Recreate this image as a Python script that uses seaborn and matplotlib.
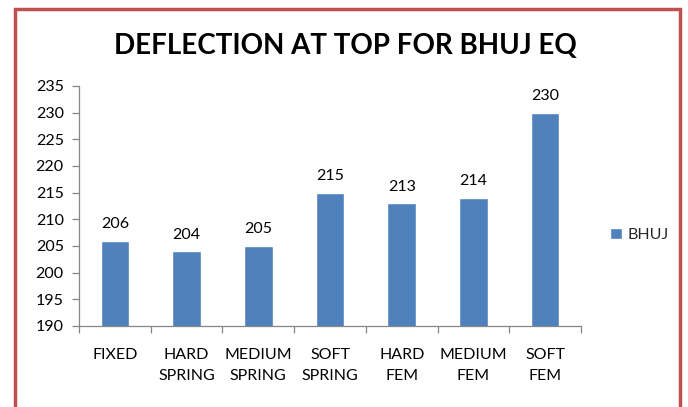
import matplotlib
matplotlib.use("Agg")
import matplotlib.pyplot as plt
import seaborn as sns
import pandas as pd
from matplotlib.patches import Rectangle

categories = ["FIXED", "HARD\nSPRING", "MEDIUM\nSPRING", "SOFT\nSPRING",
              "HARD\nFEM", "MEDIUM\nFEM", "SOFT\nFEM"]
bhuj = [206, 204, 205, 215, 213, 214, 230]
yticks = list(range(190, 236, 5))

sns.set_theme(style="white")
plt.rcParams["font.family"] = ["Lato", "DejaVu Sans"]

df = pd.DataFrame({"case": categories, "BHUJ": bhuj})

fig = plt.figure(figsize=(6.88, 4.07), dpi=100)
ax = fig.add_axes([79 / 688, 81 / 407, 502 / 688, 240 / 407])

bar_color = "#4F81BD"
sns.barplot(data=df, x="case", y="BHUJ", color=bar_color, width=0.4,
            saturation=1, ax=ax, label="BHUJ")

ax.set_ylim(190, 235)
ax.set_yticks(yticks)
ax.set_xlim(-0.5, len(categories) - 0.5)
ax.set_xlabel("")
ax.set_ylabel("")

for i, v in enumerate(bhuj):
    ax.annotate(str(v), (i, v), xytext=(0, 7), textcoords="offset points",
                ha="center", va="bottom", fontsize=11.5, color="#000000")

grey = "#868686"
for s in ["top", "right"]:
    ax.spines[s].set_visible(False)
for s in ["left", "bottom"]:
    ax.spines[s].set_color(grey)
    ax.spines[s].set_linewidth(0.9)

ax.tick_params(axis="y", which="both", left=True, direction="out", length=5,
               width=0.9, color=grey, labelsize=11.5, labelcolor="#000000", pad=6)
ax.set_xticks(range(len(categories)))
ax.set_xticklabels(categories, fontsize=11.5, color="#000000", linespacing=1.6)
ax.tick_params(axis="x", which="major", bottom=False, pad=10)
ax.set_xticks([i - 0.5 for i in range(len(categories) + 1)], minor=True)
ax.tick_params(axis="x", which="minor", bottom=True, direction="out",
               length=5, width=0.9, color=grey)

leg = ax.legend(loc="center left", bbox_to_anchor=(1.03, 0.38), frameon=False,
                fontsize=11.5, handlelength=0.7, handleheight=0.7,
                handletextpad=0.35)

fig.suptitle("DEFLECTION AT TOP FOR BHUJ EQ", x=0.502, y=0.92, fontsize=20,
             fontweight="bold", color="#000000")

fig.patches.append(Rectangle((15 / 688, -0.05), 665 / 688, 1.05 - 9 / 407,
                             transform=fig.transFigure, fill=False,
                             edgecolor="#C0504D", linewidth=2.5))

fig.savefig("out.png", dpi=100, facecolor="white")
